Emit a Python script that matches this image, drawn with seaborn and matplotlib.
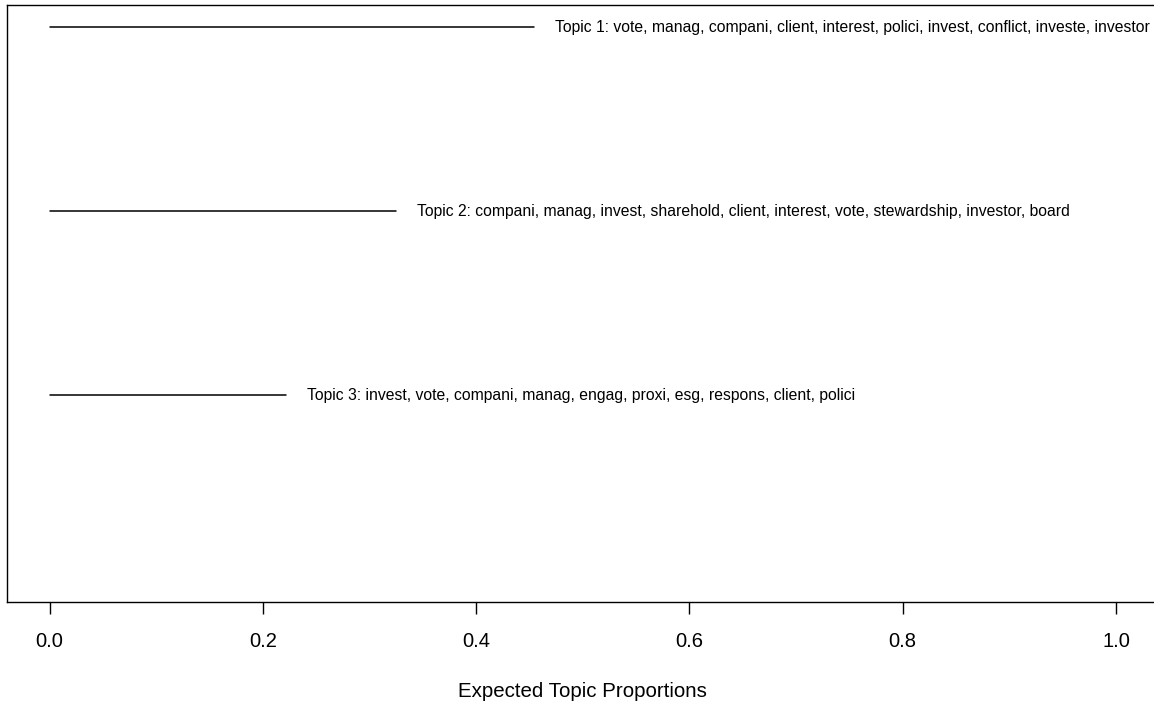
import matplotlib
matplotlib.use("Agg")
import matplotlib.pyplot as plt
import seaborn as sns
import pandas as pd

# Expected topic proportions and their top words
topics = ["Topic 1", "Topic 2", "Topic 3"]
proportions = [0.454, 0.325, 0.222]
top_words = [
    "vote, manag, compani, client, interest, polici, invest, conflict, investe, investor",
    "compani, manag, invest, sharehold, client, interest, vote, stewardship, investor, board",
    "invest, vote, compani, manag, engag, proxi, esg, respons, client, polici",
]
y_positions = [3, 2, 1]
x_ticks = [0.0, 0.2, 0.4, 0.6, 0.8, 1.0]

sns.set_style("white")
plt.rcParams["font.family"] = ["Liberation Sans", "DejaVu Sans"]

# One segment per topic, from 0 to its expected proportion
rows = []
for t, p, y in zip(topics, proportions, y_positions):
    rows.append({"topic": t, "x": 0.0, "y": y})
    rows.append({"topic": t, "x": p, "y": y})
df = pd.DataFrame(rows)

fig = plt.figure(figsize=(11.54, 7.06), dpi=100)
ax = fig.add_axes([7 / 1154, 104 / 706, 1151.6 / 1154, 597 / 706])

sns.lineplot(data=df, x="x", y="y", units="topic", estimator=None,
             color="black", linewidth=1.1, sort=False, legend=False, ax=ax)

for t, p, y, w in zip(topics, proportions, y_positions, top_words):
    ax.annotate(f"{t}: {w}", xy=(p, y), xytext=(21, 0), textcoords="offset pixels",
                ha="left", va="center", fontsize=11.35, color="black")

ax.set_xlim(-0.04, 1.04)
ax.set_ylim(-0.125, 3.12)
ax.set_yticks([])
ax.set_xticks(x_ticks)
ax.set_xticklabels([f"{v:.1f}" for v in x_ticks], fontsize=14.5, color="black")
ax.tick_params(axis="x", direction="out", length=8.6, width=1, color="black",
               pad=13, bottom=True)
ax.set_xlabel("Expected Topic Proportions", fontsize=14.8, labelpad=22.5, color="black")
ax.set_ylabel("")
for s in ax.spines.values():
    s.set_visible(True)
    s.set_color("black")
    s.set_linewidth(1)

fig.savefig("out.png", dpi=100)
